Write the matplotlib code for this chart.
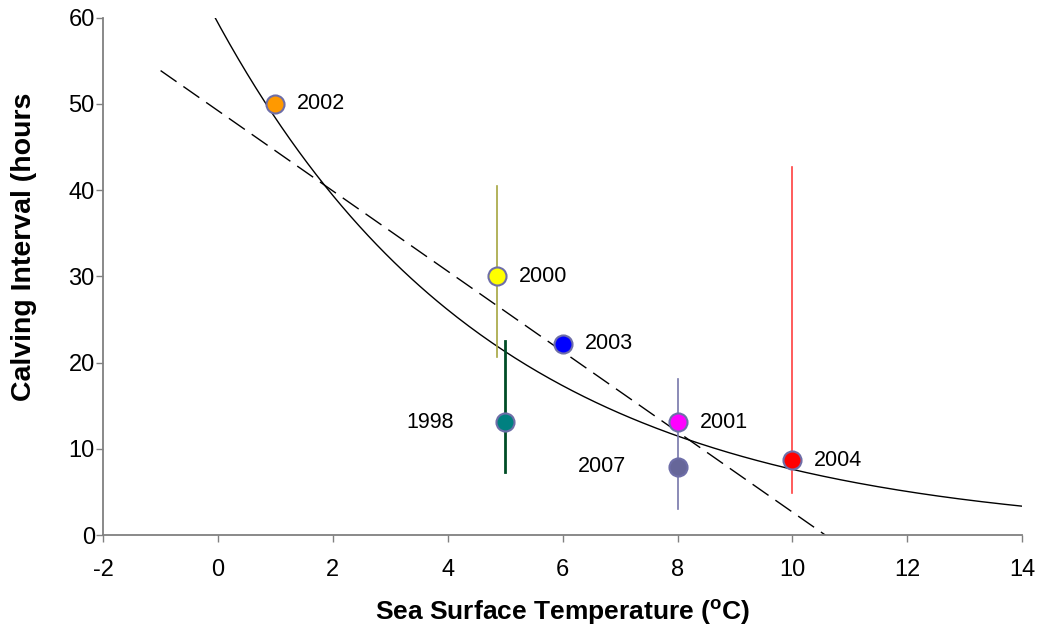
import numpy as np
from matplotlib import pyplot as plt

plt.rcParams['font.family'] = ['Liberation Sans', 'DejaVu Sans']
plt.rcParams['axes.unicode_minus'] = False
plt.rcParams['mathtext.fontset'] = 'custom'
plt.rcParams['mathtext.bf'] = 'Liberation Sans:bold'
plt.rcParams['mathtext.rm'] = 'Liberation Sans'

# calving data per year
years = ['2002', '2000', '2003', '1998', '2001', '2007', '2004']
sst = [1.0, 4.86, 6.0, 5.0, 8.0, 8.0, 10.0]
interval = [50.0, 30.0, 22.2, 13.1, 13.1, 7.9, 8.7]
fill = ['#FF9900', '#FFFF00', '#0000FF', '#008080', '#FF00FF', '#666699', '#FF0000']
label_side = ['r', 'r', 'r', 'l', 'r', 'l', 'r']

# error bar ranges (low, high) for the years that have them
err_years = ['2000', '1998', '2001', '2004']
err_low = [20.6, 7.3, 3.0, 4.9]
err_high = [40.5, 22.5, 18.1, 42.7]
err_color = ['#A6A640', '#004D26', '#7777AA', '#FF4040']
err_width = [1.2, 2.0, 1.2, 1.2]

fig = plt.figure(figsize=(10.42, 6.34), dpi=100)
ax = fig.add_axes([0.099, 0.156, 0.882, 0.816])

x = np.array(sst)
y = np.array(interval)

# trendlines fitted to the points
b, a = np.polyfit(x, np.log(y), 1)
xe = np.linspace(-1, 14, 300)
ax.plot(xe, np.exp(a) * np.exp(b * xe), color='black', lw=1.0, zorder=2)

m, c = np.polyfit(x, y, 1)
x0 = -c / m
xl = np.array([-1, x0])
ax.plot(xl, m * xl + c, color='black', lw=1.0, dashes=(14, 6), zorder=2)

for yr, lo, hi, col, w in zip(err_years, err_low, err_high, err_color, err_width):
    i = years.index(yr)
    ax.plot([sst[i], sst[i]], [lo, hi], color=col, lw=w, zorder=3)

for i in range(len(years)):
    ax.plot(sst[i], interval[i], 'o', ms=13, mfc=fill[i], mec='#6E6EA8',
            mew=1.5, zorder=4)
    if label_side[i] == 'r':
        ax.text(sst[i] + 0.38, interval[i], years[i], fontsize=15.5,
                va='center', ha='left')
    else:
        ax.text(sst[i] - 0.9, interval[i], years[i], fontsize=15.5,
                va='center', ha='right')

ax.set_xlim(-2, 14)
ax.set_ylim(0, 60)
ax.set_xticks(range(-2, 15, 2))
ax.set_yticks(range(0, 61, 10))
ax.spines['top'].set_visible(False)
ax.spines['right'].set_visible(False)
for s in ['left', 'bottom']:
    ax.spines[s].set_color('#808080')
    ax.spines[s].set_linewidth(1.3)
ax.tick_params(colors='#808080', labelcolor='black', labelsize=17, length=5,
               width=1)
ax.tick_params(axis='x', pad=12)
ax.tick_params(axis='y', pad=1)

ax.set_xlabel(r'Sea Surface Temperature ($^{\mathbf{o}}$C)', fontsize=19,
              fontweight='bold', labelpad=12)
ax.set_ylabel('Calving Interval (hours', fontsize=20.5, fontweight='bold')
ax.yaxis.set_label_coords(-0.072, 0.557)

fig.savefig('out.png', dpi=100)
